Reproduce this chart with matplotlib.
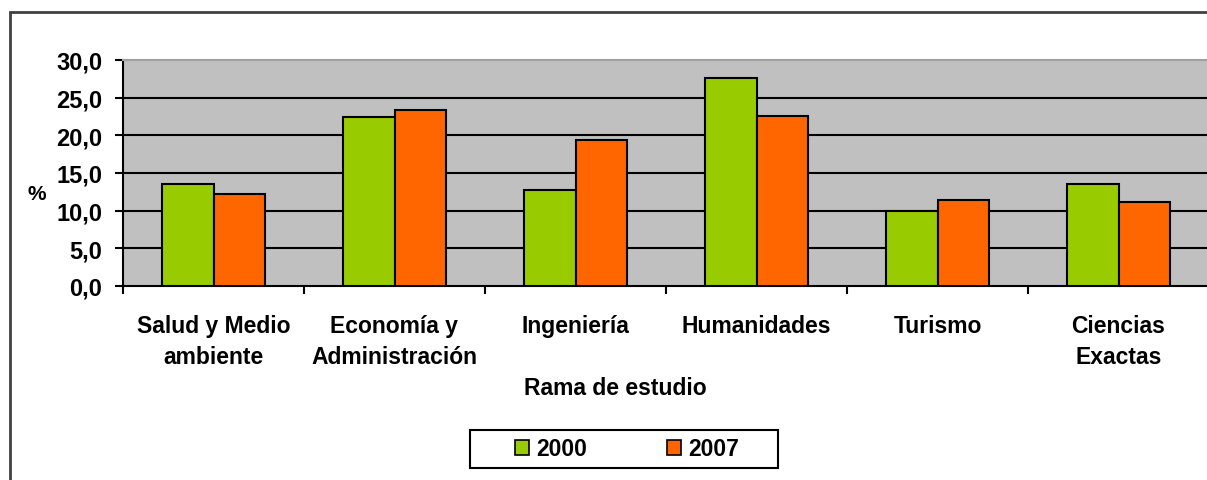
import matplotlib.pyplot as plt
import matplotlib.patches as mpatches
import numpy as np

# data
categories = ['Salud y Medio\nambiente', 'Economía y\nAdministración', 'Ingeniería',
              'Humanidades', 'Turismo', 'Ciencias\nExactas']
years = ['2000', '2007']
values_2000 = [13.5, 22.5, 12.7, 27.6, 10.0, 13.5]
values_2007 = [12.2, 23.4, 19.4, 22.6, 11.4, 11.2]
y_ticks = [0, 5, 10, 15, 20, 25, 30]
y_tick_labels = ['0,0', '5,0', '10,0', '15,0', '20,0', '25,0', '30,0']

colors = {'2000': '#99CC00', '2007': '#FF6600'}

plt.rcParams['font.family'] = ['Liberation Sans', 'DejaVu Sans']
plt.rcParams['font.weight'] = 'bold'

W, H = 1207, 481
fig = plt.figure(figsize=(W / 100, H / 100), dpi=100)
fig.patch.set_facecolor('white')

ax = fig.add_axes([123 / W, 1 - 287 / H, (1209 - 123) / W, (287 - 61) / H])
ax.set_facecolor('#C0C0C0')

x = np.arange(len(categories))
w = 1 / 3.5  # excel gap width 150%
ax.bar(x - w / 2, values_2000, w, color=colors['2000'], edgecolor='black',
       linewidth=1.5, label=years[0], zorder=3)
ax.bar(x + w / 2, values_2007, w, color=colors['2007'], edgecolor='black',
       linewidth=1.5, label=years[1], zorder=3)

for yv in y_ticks[1:-1]:
    ax.axhline(yv, color='black', linewidth=1.5, zorder=1)

ax.set_xlim(-0.5, len(categories) - 0.5)
ax.set_ylim(0, 30)
ax.set_yticks(y_ticks)
ax.set_yticklabels(y_tick_labels, fontsize=17, fontweight='bold')
ax.tick_params(axis='y', direction='out', length=6, width=1.5, pad=9)

ax.set_xticks(x)
ax.set_xticklabels(categories, fontsize=16.5, fontweight='bold', linespacing=1.45)
ax.set_xticks(np.arange(-0.5, len(categories)), minor=True)
ax.tick_params(axis='x', which='major', length=0, pad=20)
ax.tick_params(axis='x', which='minor', direction='out', length=6, width=1.5)

for side in ['left', 'bottom']:
    ax.spines[side].set_linewidth(1.5)
    ax.spines[side].set_color('black')
ax.spines['top'].set_color('#a0a0a0')
ax.spines['top'].set_linewidth(1.5)
ax.spines['right'].set_visible(False)

fig.text(36.5 / W, 1 - 195 / H, '%', fontsize=15, fontweight='bold', ha='center', va='center')
fig.text(615 / W, 1 - 389 / H, 'Rama de estudio', fontsize=16.5, fontweight='bold',
         ha='center', va='center')

# outer chart frame (clipped at right/bottom)
fig.add_artist(mpatches.Rectangle((10 / W, -0.1), 2, 1 - 13 / H + 0.1, fill=False,
                                  edgecolor='#404040', linewidth=2, transform=fig.transFigure))

# legend box
fig.add_artist(mpatches.Rectangle((470 / W, 1 - 469 / H), (778 - 470) / W, 38 / H,
                                  facecolor='white', edgecolor='black', linewidth=1.5,
                                  transform=fig.transFigure))
handles = [mpatches.Patch(facecolor=colors[y], edgecolor='black', linewidth=1.2, label=y)
           for y in years]
leg = fig.legend(handles=handles, loc='center', bbox_to_anchor=(627 / W, 1 - 450 / H),
                 ncol=2, frameon=False, handlelength=0.62, handleheight=0.62,
                 handletextpad=0.3, columnspacing=3.5, prop={'weight': 'bold', 'size': 16.5})

fig.savefig('out.png', dpi=100)
